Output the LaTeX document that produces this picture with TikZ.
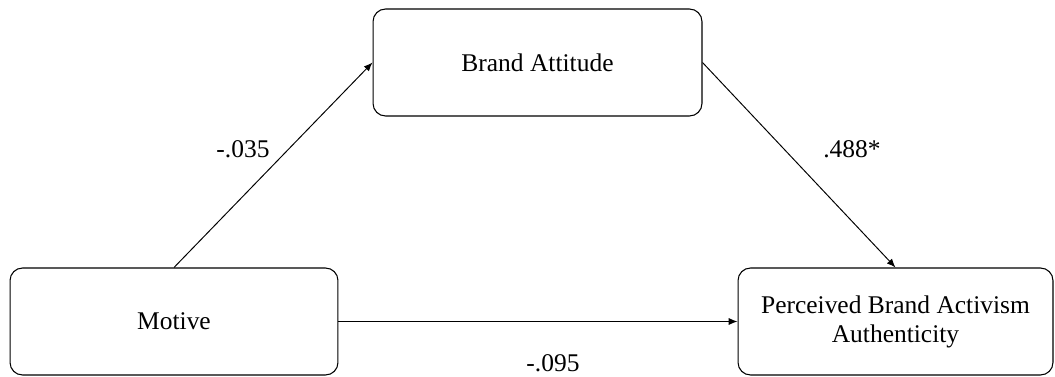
\documentclass[tikz,border=0pt]{standalone}
\usepackage{fontspec}
\setmainfont{Liberation Serif}
\usetikzlibrary{positioning}
\usetikzlibrary{arrows.meta}

\begin{document}
\begin{tikzpicture}[x=0.02cm, y=0.02cm,
    varbox/.style={draw, rounded corners=0.25cm, line width=0.6pt, minimum height=2.14cm, align=center, font=\fontsize{14.5}{16.5}\selectfont},
    link/.style={-{Latex[length=5pt, width=4pt]}, line width=0.55pt},
    coef/.style={anchor=base, font=\fontsize{14.5}{16.5}\selectfont}]
    \useasboundingbox (0, 0) rectangle (1055, 376);

    \node[varbox, minimum width=6.56cm] (motive) at (174, 54.5) {Motive};
    \node[varbox, minimum width=6.58cm] (attitude) at (537.5, 313.5) {Brand Attitude};
    \node[varbox, minimum width=6.3cm] (authenticity) at (895.5, 54.5) {Perceived Brand Activism\\Authenticity};

    \draw[link] (motive.north) -- (attitude.west);
    \draw[link] (attitude.east) -- (authenticity.north);
    \draw[link] (motive.east) -- (authenticity.west);

    \node[coef] (motatt) at (243, 219) {-.035};
    \node[coef] (attaut) at (852, 219) {.488*};
    \node[coef] (motaut) at (553, 5) {-.095};
\end{tikzpicture}
\end{document}
